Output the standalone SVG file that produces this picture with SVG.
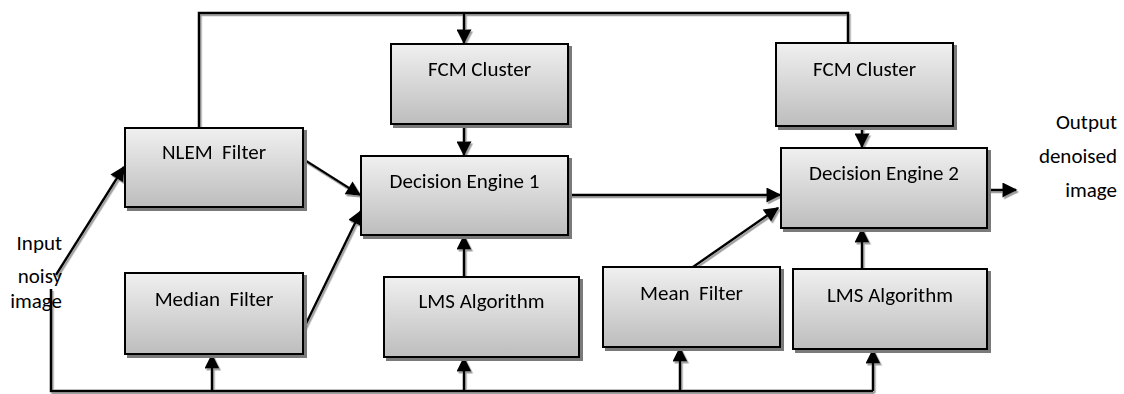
<svg xmlns="http://www.w3.org/2000/svg" width="1124" height="394" viewBox="0 0 1124 394">
<style>
.box{fill:url(#g);stroke:#000;stroke-width:2}
.t{font-family:Carlito,Lato,"Liberation Sans",sans-serif;font-size:21px;fill:#000;text-anchor:middle;white-space:pre}
.lbl{font-family:Carlito,Lato,"Liberation Sans",sans-serif;font-size:21px;fill:#000;text-anchor:end}
.c{fill:none;stroke:#000;stroke-width:2.5}
.a{marker-end:url(#ah)}
</style>
<defs>
<linearGradient id="g" x1="0" y1="0" x2="0" y2="1">
<stop offset="0" stop-color="#f0f0f0"/>
<stop offset="1" stop-color="#bdbdbd"/>
</linearGradient>
<filter id="bs" x="-5%" y="-5%" width="115%" height="120%">
<feDropShadow dx="3" dy="3" stdDeviation="0.4" flood-color="#7a7a7a"/>
</filter>
<filter id="ls" x="-5%" y="-5%" width="115%" height="115%">
<feDropShadow dx="1.5" dy="2" stdDeviation="0.3" flood-color="#a0a0a0"/>
</filter>
<marker id="ah" viewBox="0 0 10 10" refX="9" refY="5" markerWidth="6.5" markerHeight="6" markerUnits="strokeWidth" orient="auto">
<path d="M0,0 L10,5 L0,10 z" fill="#000"/>
</marker>
</defs>
<g id="connectors" filter="url(#ls)">
<path class="c" d="M199,128 V13 H848 V42"/>
<path class="c a" d="M464,13 V43"/>
<path class="c a" d="M464,124 V155"/>
<path class="c a" d="M862,126 V147"/>
<path class="c a" d="M303,159 L360,195"/>
<path class="c a" d="M303,330 L361,211"/>
<path class="c a" d="M56,275 L124,167"/>
<path class="c" d="M51,289 V391 H873"/>
<path class="c a" d="M212,391 V355"/>
<path class="c a" d="M464,391 V358"/>
<path class="c a" d="M680,391 V348"/>
<path class="c a" d="M873,391 V350"/>
<path class="c a" d="M464,277 V236"/>
<path class="c a" d="M862,269 V229"/>
<path class="c a" d="M568,195 H780"/>
<path class="c a" d="M693,267 L778,208"/>
<path class="c a" d="M987,190 H1016"/>
</g>
<g id="nlem" filter="url(#bs)"><rect class="box" x="125" y="128" width="178" height="79"/><text class="t" x="214" y="159">NLEM  Filter</text></g>
<g id="fcm1" filter="url(#bs)"><rect class="box" x="391" y="44" width="177" height="80"/><text class="t" x="479.5" y="76">FCM Cluster</text></g>
<g id="de1" filter="url(#bs)"><rect class="box" x="361" y="156" width="207" height="79"/><text class="t" x="464.5" y="188">Decision Engine 1</text></g>
<g id="fcm2" filter="url(#bs)"><rect class="box" x="776" y="43" width="177" height="83"/><text class="t" x="864.5" y="76">FCM Cluster</text></g>
<g id="de2" filter="url(#bs)"><rect class="box" x="781" y="148" width="206" height="80"/><text class="t" x="884" y="180">Decision Engine 2</text></g>
<g id="median" filter="url(#bs)"><rect class="box" x="125" y="273" width="178" height="81"/><text class="t" x="214" y="306">Median  Filter</text></g>
<g id="lms1" filter="url(#bs)"><rect class="box" x="384" y="277" width="195" height="80"/><text class="t" x="481.5" y="308">LMS Algorithm</text></g>
<g id="mean" filter="url(#bs)"><rect class="box" x="603" y="267" width="177" height="80"/><text class="t" x="691.5" y="300">Mean  Filter</text></g>
<g id="lms2" filter="url(#bs)"><rect class="box" x="793" y="269" width="194" height="80"/><text class="t" x="890" y="302">LMS Algorithm</text></g>
<g id="input">
<text class="lbl" x="62" y="250">Input</text>
<text class="lbl" x="62" y="283">noisy</text>
<text class="lbl" x="62" y="308">image</text>
</g>
<g id="output">
<text class="lbl" x="1117" y="129">Output</text>
<text class="lbl" x="1117" y="163">denoised</text>
<text class="lbl" x="1117" y="197">image</text>
</g>
</svg>
